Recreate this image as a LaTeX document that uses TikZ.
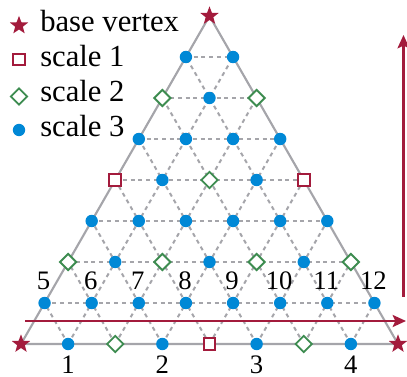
\documentclass[tikz,border=0pt]{standalone}
\usepackage{fontspec}
\setmainfont{Liberation Serif}
\usetikzlibrary{shapes.geometric,arrows.meta,calc}
\definecolor{crim}{RGB}{163,27,60}
\definecolor{grn}{RGB}{61,140,80}
\definecolor{blu}{RGB}{0,136,214}
\definecolor{gry}{RGB}{165,165,170}
\tikzset{
  starmk/.style={star,star points=5,star point ratio=2.4,fill=crim,draw=none,inner sep=0pt,minimum size=14.5pt},
  sqmk/.style={rectangle,draw=crim,fill=white,line width=1.4pt,inner sep=0pt,minimum size=8.8pt},
  dimk/.style={diamond,draw=grn,fill=white,line width=1.4pt,inner sep=0pt,minimum size=12.8pt},
  dotmk/.style={circle,fill=blu,draw=none,inner sep=0pt,minimum size=9.3pt},
  gridln/.style={gry,line width=1.5pt,dash pattern=on 3pt off 2.8pt},
  edgeln/.style={gry,line width=1.6pt},
  redarrow/.style={crim,line width=1.8pt,-{Stealth[length=10pt,width=9pt,inset=2pt]}},
  legtext/.style={anchor=base west,inner sep=0pt,font=\fontsize{23pt}{27pt}\selectfont},
  numlab/.style={inner sep=0pt,font=\fontsize{20pt}{24pt}\selectfont}
}
\begin{document}
\begin{tikzpicture}[x=0.75pt,y=-0.75pt]
\useasboundingbox (0,0) rectangle (407,377);
% lattice points
\foreach \k in {0,...,8}{
  \pgfmathtruncatemacro\m{8-\k}
  \foreach \i in {0,...,\m}{
    \coordinate (p\i-\k) at ({21+23.5625*\k+47.125*\i},{344-41*\k});
  }
}
% dotted interior grid
\foreach \c in {1,...,7}{
  \pgfmathtruncatemacro\m{8-\c}
  \draw[gridln] (p0-\c) -- (p\m-\c);
  \draw[gridln] (p\c-0) -- (p\c-\m);
  \draw[gridln] (p\c-0) -- (p0-\c);
}
% triangle edges
\draw[edgeln] (p0-0) -- (p8-0) -- (p0-8) -- cycle;
% red arrows
\coordinate (hs) at (25,321);
\coordinate (he) at (406,321);
\coordinate (vs) at (403.5,297);
\coordinate (ve) at (403.5,35);
\draw[redarrow] (hs) -- (he);
\draw[redarrow] (vs) -- (ve);
% markers
\foreach \k in {0,...,8}{
  \pgfmathtruncatemacro\m{8-\k}
  \foreach \i in {0,...,\m}{
    \pgfmathtruncatemacro\j{8-\i-\k}
    \pgfmathtruncatemacro\typ{(\i==8 || \j==8 || \k==8) ? 0 : ((mod(\i,4)==0 && mod(\j,4)==0 && mod(\k,4)==0) ? 1 : ((mod(\i,2)==0 && mod(\j,2)==0 && mod(\k,2)==0) ? 2 : 3))}
    \ifcase\typ
      \node[starmk] (m\i-\k) at (p\i-\k) {};
    \or
      \node[sqmk] (m\i-\k) at (p\i-\k) {};
    \or
      \node[dimk] (m\i-\k) at (p\i-\k) {};
    \or
      \node[dotmk] (m\i-\k) at (p\i-\k) {};
    \fi
  }
}
% labels on level 1
\foreach \i [evaluate=\i as \n using int(\i+5)] in {0,...,7}{
  \node[numlab] (lab\n) at ($(p\i-1)+(-1,-22)$) {\n};
}
% labels on bottom row
\foreach \i/\n in {1/1,3/2,5/3,7/4}{
  \node[numlab] (blab\n) at ($(p\i-0)+(0,20.5)$) {\n};
}
% legend
\node[starmk] (lg0) at (19,25.5) {};
\node[sqmk] (lg1) at (19,59.5) {};
\node[dimk] (lg2) at (19,96.5) {};
\node[dotmk] (lg3) at (19,130) {};
\node[legtext] (lt0) at (40,31.7) {base vertex};
\node[legtext] (lt1) at (40,66.7) {scale 1};
\node[legtext] (lt2) at (40,101.7) {scale 2};
\node[legtext] (lt3) at (40,136.7) {scale 3};
\end{tikzpicture}
\end{document}
